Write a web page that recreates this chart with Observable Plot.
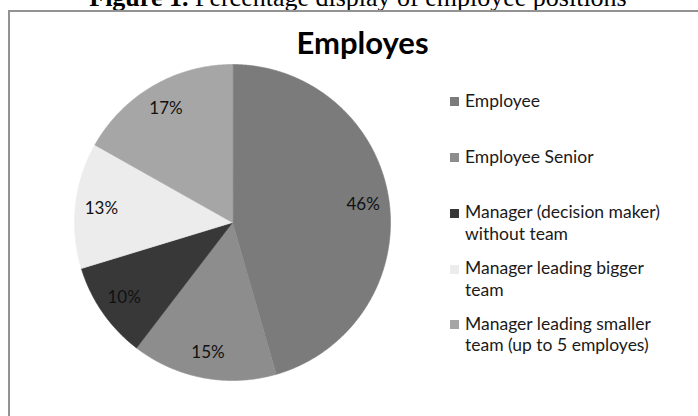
<!DOCTYPE html>
<html><head><meta charset="utf-8">
<script src="https://cdn.jsdelivr.net/npm/d3@7"></script>
<script src="https://cdn.jsdelivr.net/npm/@observablehq/plot@0.6"></script>
<style>
html,body{margin:0;padding:0;background:#fff;overflow:hidden;width:698px;height:416px;}
#root{position:relative;width:698px;height:416px;overflow:hidden;background:#fff;}
.caption{position:absolute;left:0;width:716px;top:-14.8px;font-family:"Liberation Serif";font-size:26px;line-height:26px;text-align:center;color:#000;white-space:nowrap;}
.box{position:absolute;left:8px;top:10px;width:800px;height:600px;border:2px solid #929292;box-sizing:border-box;}
.title{position:absolute;left:0;width:725px;top:26.8px;font-family:Lato;font-weight:bold;font-size:31px;line-height:31px;text-align:center;color:#000;}
.item{position:absolute;left:465px;width:206px;font-family:Lato;font-size:17.5px;line-height:21.7px;color:#1a1a1a;}
.sw{position:absolute;left:450px;width:9px;height:9px;}
#root svg{position:absolute;left:0;top:0;overflow:visible;background:transparent;}
</style>
</head><body>
<div id="root">
  <div class="caption"><b>Figure 1.</b> Percentage display of employee positions</div>
  <div class="box"></div>
  <div class="title">Employes</div>
</div>
<script>
const chartTitle = "Employes";
const categories = [
  "Employee",
  "Employee Senior",
  "Manager (decision maker) without team",
  "Manager leading bigger team",
  "Manager leading smaller team (up to 5 employes)"
];
const percents = [46, 15, 10, 13, 17];
const colors = ["#7b7b7b", "#8d8d8d", "#383838", "#ececec", "#a6a6a6"];

const arcs = d3.pie().sort(null).value(d => d)(percents);

const sliceRows = [];
arcs.forEach((a, i) => {
  const cat = categories[i];
  sliceRows.push({cat, x: 0, y: 0});
  const n = Math.max(2, Math.ceil((a.endAngle - a.startAngle) / (Math.PI / 360)));
  for (let k = 0; k <= n; k++) {
    const t = a.startAngle + (a.endAngle - a.startAngle) * k / n;
    sliceRows.push({cat, x: Math.sin(t), y: Math.cos(t)});
  }
});

const labelR = 0.835;
const labelRows = arcs.map((a, i) => {
  const m = (a.startAngle + a.endAngle) / 2;
  return {cat: categories[i], pct: percents[i], x: labelR * Math.sin(m), y: labelR * Math.cos(m)};
});

const plot = Plot.plot({
  width: 698,
  height: 416,
  marginLeft: 74,
  marginRight: 308,
  marginTop: 64,
  marginBottom: 36,
  x: {domain: [-1, 1], axis: null},
  y: {domain: [-1, 1], axis: null},
  color: {type: "ordinal", domain: categories, range: colors},
  style: {background: "transparent", fontFamily: "Lato"},
  marks: [
    Plot.line(sliceRows, {x: "x", y: "y", z: "cat", fill: "cat", stroke: "cat", strokeWidth: 0.6, curve: "linear-closed"}),
    Plot.text(labelRows, {x: "x", y: "y", text: d => d.pct + "%", fontSize: 17, fontFamily: "Lato", fill: "#111"})
  ]
});

const root = document.getElementById("root");
root.appendChild(plot);

const colorScale = plot.scale("color");
const firstTop = 89.8, pitch = 55.7;
categories.forEach((c, i) => {
  const top = firstTop + pitch * i;
  const sw = document.createElement("div");
  sw.className = "sw";
  sw.style.top = (top + 17.6 - 10) + "px";
  sw.style.background = colorScale.apply(c);
  root.appendChild(sw);
  const it = document.createElement("div");
  it.className = "item";
  it.style.top = top + "px";
  it.textContent = c;
  root.appendChild(it);
});
</script>
</body></html>
